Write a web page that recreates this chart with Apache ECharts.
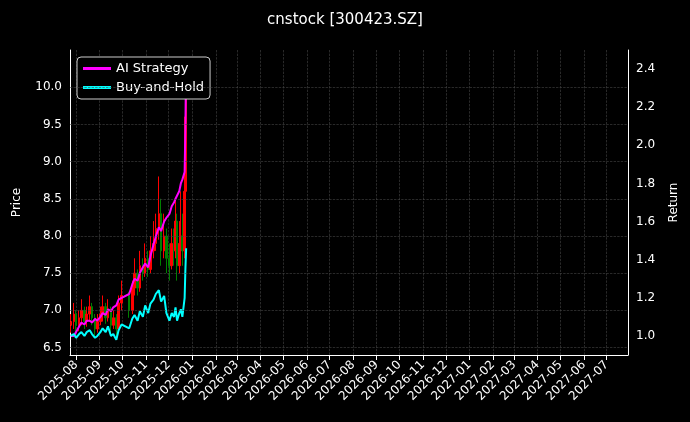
<!DOCTYPE html>
<html><head><meta charset="utf-8">
<script src="https://cdn.jsdelivr.net/npm/echarts@6/dist/echarts.min.js"></script>
<style>html,body{margin:0;background:#000}#container{width:690px;height:422px}</style>
</head><body><div id="container"></div>
<script>
var dates = ['2025-07-25','2025-07-29','2025-08-01','2025-08-05','2025-08-08','2025-08-12','2025-08-15','2025-08-19','2025-08-22','2025-08-26','2025-08-29','2025-09-02','2025-09-05','2025-09-09','2025-09-12','2025-09-16','2025-09-19','2025-09-23','2025-09-26','2025-09-30','2025-10-10','2025-10-14','2025-10-17','2025-10-21','2025-10-24','2025-10-28','2025-10-31','2025-11-04','2025-11-07','2025-11-11','2025-11-14','2025-11-18','2025-11-21','2025-11-25','2025-11-28','2025-12-02','2025-12-05','2025-12-08','2025-12-10','2025-12-12','2025-12-15','2025-12-17','2025-12-19','2025-12-22','2025-12-23','2025-12-24'];
var closes = [6.85,6.95,6.8,6.9,7.0,6.85,6.95,7.05,6.9,6.75,6.85,6.95,7.05,6.9,7.0,6.8,6.9,6.75,7.1,7.2,7.0,7.3,7.5,7.3,7.6,7.5,7.7,7.55,7.8,7.9,8.1,8.3,7.8,8.0,7.7,7.6,7.9,7.8,8.2,7.6,7.9,8.0,7.8,8.6,9.6,10.1];
var opens = [6.8,6.85,6.95,6.8,6.9,7.0,6.85,6.95,7.05,6.9,6.75,6.85,6.95,7.05,6.9,7.0,6.8,6.9,6.75,7.1,7.2,7.0,7.3,7.5,7.3,7.6,7.5,7.7,7.55,7.8,7.9,8.1,8.3,7.8,8.0,7.7,7.6,7.9,7.8,8.2,7.6,7.9,8.0,7.8,8.6,9.6];
var lows = [6.7,6.75,6.7,6.72,6.8,6.75,6.78,6.85,6.8,6.65,6.7,6.8,6.85,6.82,6.85,6.7,6.75,6.65,6.7,7.0,6.9,6.95,7.2,7.2,7.25,7.4,7.45,7.45,7.5,7.7,7.8,7.95,7.6,7.7,7.5,7.4,7.55,7.6,7.7,7.4,7.5,7.7,7.6,7.7,8.5,9.4];
var highs = [6.95,7.1,7.0,7.0,7.15,7.05,7.05,7.2,7.1,6.95,6.95,7.05,7.2,7.1,7.15,7.05,7.0,6.95,7.2,7.4,7.25,7.4,7.7,7.55,7.8,7.7,7.9,7.8,8.0,8.2,8.3,8.8,8.5,8.3,8.1,7.9,8.1,8.1,8.5,8.3,8.2,8.6,8.3,8.8,9.9,10.3];
var aiReturn = [1.0,1.0,1.02,1.05,1.07,1.06,1.08,1.08,1.07,1.09,1.08,1.10,1.12,1.11,1.14,1.13,1.15,1.16,1.19,1.20,1.22,1.27,1.30,1.29,1.33,1.36,1.38,1.36,1.42,1.48,1.52,1.57,1.55,1.60,1.62,1.64,1.68,1.70,1.72,1.71,1.76,1.80,1.82,1.86,2.1,2.45];
var bhReturn = [1.0,1.01,0.99,1.01,1.02,1.0,1.02,1.03,1.01,0.99,1.0,1.02,1.04,1.02,1.05,1.0,1.01,0.98,1.03,1.06,1.04,1.09,1.11,1.08,1.13,1.10,1.16,1.12,1.17,1.19,1.22,1.24,1.18,1.21,1.12,1.08,1.12,1.10,1.15,1.08,1.12,1.14,1.10,1.20,1.35,1.46];
var priceTicks = [6.5, 7.0, 7.5, 8.0, 8.5, 9.0, 9.5, 10.0];
var returnTicks = [1.0, 1.2, 1.4, 1.6, 1.8, 2.0, 2.2, 2.4];

var candles = dates.map(function (d, i) { return [d, opens[i], closes[i], lows[i], highs[i]]; });
var ai = dates.map(function (d, i) { return [d, aiReturn[i]]; });
var bh = dates.map(function (d, i) { return [d, bhReturn[i]]; });

function near(v, list) {
    for (var i = 0; i < list.length; i++) if (Math.abs(v - list[i]) < 1e-6) return list[i];
    return null;
}

var font = 'DejaVu Sans';
var myChart = echarts.init(document.getElementById('container'));
myChart.setOption({
    backgroundColor: '#000',
    animation: false,
    textStyle: { fontFamily: font, color: '#fff' },
    title: { text: 'cnstock [300423.SZ]', left: 'center', top: 8, textStyle: { color: '#fff', fontSize: 15, fontWeight: 'normal', fontFamily: font } },
    legend: {
        left: 77, top: 57, orient: 'vertical', itemGap: 6, itemWidth: 28, itemHeight: 3,
        backgroundColor: '#000', borderColor: '#ccc', borderWidth: 1, borderRadius: 4, padding: [5, 6],
        textStyle: { color: '#fff', fontSize: 13, fontFamily: font },
        data: [{ name: 'AI Strategy', icon: 'rect' }, { name: 'Buy-and-Hold', icon: 'rect' }]
    },
    grid: { left: 70, right: 62, top: 50, bottom: 67, containLabel: false, outerBoundsMode: 'none' },
    xAxis: {
        type: 'time', min: '2025-07-24', max: '2027-07-29',
        minInterval: 28 * 86400000, maxInterval: 31 * 86400000,
        axisLine: { lineStyle: { color: '#fff' } }, axisTick: { lineStyle: { color: '#fff' } },
        axisLabel: { color: '#fff', rotate: 45, fontSize: 12, formatter: '{yyyy}-{MM}', hideOverlap: false },
        splitLine: { show: true, lineStyle: { color: '#444', type: 'dashed', width: 0.6 } }
    },
    yAxis: [{
        type: 'value', name: 'Price', nameLocation: 'middle', nameGap: 47, nameTextStyle: { color: '#fff', fontSize: 12 },
        min: 6.4, max: 10.5, interval: 0.1,
        axisLine: { show: true, lineStyle: { color: '#fff' } }, axisTick: { show: false },
        axisLabel: { color: '#fff', fontSize: 12, margin: 8, formatter: function (v) { var t = near(v, priceTicks); return t === null ? '' : t.toFixed(1); } },
        splitLine: { show: false }
    }, {
        type: 'value', name: 'Return', nameLocation: 'middle', nameGap: 40, nameTextStyle: { color: '#fff', fontSize: 12 },
        min: 0.9, max: 2.5, interval: 0.1,
        axisLine: { show: true, lineStyle: { color: '#fff' } }, axisTick: { show: false },
        axisLabel: { color: '#fff', fontSize: 12, margin: 8, formatter: function (v) { var t = near(v, returnTicks); return t === null ? '' : t.toFixed(1); } },
        splitLine: { show: false }
    }],
    series: [{
        name: 'Price', type: 'candlestick', data: candles, barWidth: 2,
        itemStyle: { color: '#ff0000', color0: '#008000', borderColor: '#ff0000', borderColor0: '#008000' },
        markLine: {
            silent: true, symbol: 'none', label: { show: false },
            lineStyle: { color: '#444', type: 'dashed', width: 0.6 },
            data: priceTicks.map(function (t) { return { yAxis: t }; })
        }
    }, {
        name: 'AI Strategy', type: 'line', yAxisIndex: 1, data: ai, showSymbol: false,
        lineStyle: { color: '#ff00ff', width: 2 }, itemStyle: { color: '#ff00ff' }
    }, {
        name: 'Buy-and-Hold', type: 'line', yAxisIndex: 1, data: bh, showSymbol: false,
        lineStyle: { color: '#00ffff', width: 2 }, itemStyle: { color: '#00ffff' }
    }]
});
</script></body></html>
